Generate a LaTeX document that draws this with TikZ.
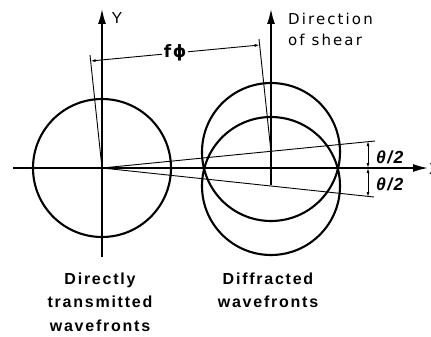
\documentclass[tikz,border=0pt]{standalone}
\usepackage{fontspec}
\setmainfont{Liberation Sans}
\newfontfamily\lblfont[LetterSpace=11]{Liberation Sans}
\newfontfamily\shearfont[LetterSpace=14]{DejaVu Sans}
\newfontfamily\grkfont[LetterSpace=8]{Liberation Sans}
\newfontfamily\phifont{DejaVu Sans}
\usetikzlibrary{arrows.meta}
\begin{document}
\begin{tikzpicture}[x=1pt,y=-1pt,
  wave/.style={line width=2.1pt},
  axis/.style={line width=1.6pt},
  thin/.style={line width=0.9pt},
  bigtip/.style={-{Latex[length=15pt,width=8pt]}},
  dim/.style={thin,{Latex[length=5pt,width=3pt]}-{Latex[length=5pt,width=3pt]}},
  captext/.style={font=\lblfont\bfseries\fontsize{16}{18}\selectfont,inner sep=0pt,anchor=base},
  shear/.style={font=\shearfont\fontsize{15}{18}\selectfont,inner sep=0pt,anchor=base west},
  ang/.style={font=\grkfont\bfseries\itshape\fontsize{17.5}{20}\selectfont,inner sep=0pt,anchor=west}]
\useasboundingbox (0,0) rectangle (431,337);
% key points
\coordinate (O1) at (102,168);
\coordinate (Cup) at (271,152);
\coordinate (Cdn) at (271,186);
\coordinate (O2) at (271,185);
\coordinate (Xs) at (13,168);
\coordinate (Xe) at (428,168);
\coordinate (Y1b) at (102,257);
\coordinate (Y1t) at (102,9);
\coordinate (Y2t) at (271,9);
\coordinate (Au) at (375,141);
\coordinate (Ad) at (374,197);
\coordinate (Du) at (368,141);
\coordinate (Dm) at (368,168);
\coordinate (Dd) at (368,197);
\coordinate (Tl) at (90,55);
\coordinate (Tr) at (259,39);
\coordinate (Fl) at (90.6,61);
\coordinate (Fr) at (259.6,45);
% wavefronts
\draw[wave] (O1) circle[radius=69];
\draw[wave] (Cup) circle[radius=69];
\draw[wave] (Cdn) circle[radius=69];
% axes
\draw[axis,bigtip] (Xs) -- (Xe);
\draw[axis,bigtip] (Y1b) -- (Y1t);
\draw[axis,bigtip] (O2) -- (Y2t);
% angle lines
\draw[thin] (O1) -- (Au);
\draw[thin] (O1) -- (Ad);
\draw[dim] (Du) -- (Dm);
\draw[dim] (Dm) -- (Dd);
% tilt lines for f phi
\draw[thin] (O1) -- (Tl);
\draw[thin] (Cup) -- (Tr);
\draw[dim] (Fl) -- node[fill=white,inner sep=2pt,font=\phifont\bfseries\fontsize{17}{20}\selectfont] (fphi) {f\kern1.5pt\char"03D5} (Fr);
% labels
\node[font=\fontsize{16}{18}\selectfont,inner sep=0pt] (ylab) at (117,18) {Y};
\node[font=\fontsize{16}{18}\selectfont,inner sep=0pt,anchor=west] (xlab) at (429,169) {X};
\node[shear] (dir1) at (288,25) {Direction};
\node[shear] (dir2) at (288,46) {of shear};
\node[ang] (th1) at (376,157) {θ/2};
\node[ang] (th2) at (376,184) {θ/2};
\node[captext] (c1) at (100,284) {Directly};
\node[captext] (c2) at (100,307) {transmitted};
\node[captext] (c3) at (100,331) {wavefronts};
\node[captext] (c4) at (268,284) {Diffracted};
\node[captext] (c5) at (268,307) {wavefronts};
\end{tikzpicture}
\end{document}
